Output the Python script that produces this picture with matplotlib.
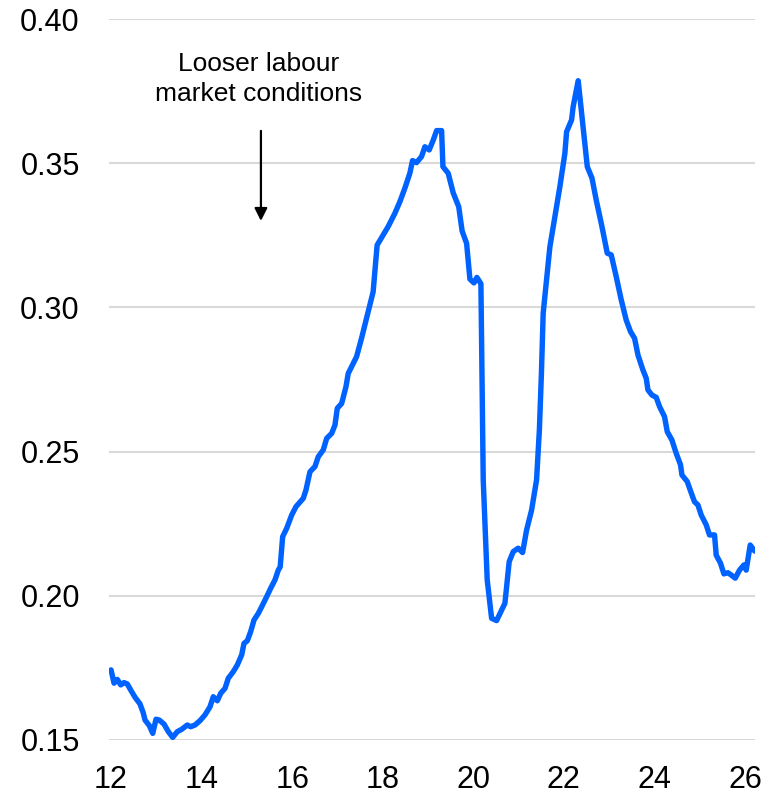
import matplotlib.pyplot as plt

# Time axis in years (12 = 2012)
year = [
    12.000, 12.066, 12.139, 12.214, 12.287, 12.360, 12.435, 12.530, 12.640, 12.713,
    12.751, 12.845, 12.921, 12.993, 13.066, 13.170, 13.265, 13.362, 13.464, 13.561,
    13.684, 13.759, 13.854, 13.965, 14.075, 14.185, 14.258, 14.347, 14.422, 14.517,
    14.589, 14.700, 14.788, 14.885, 14.936, 15.009, 15.084, 15.157, 15.252, 15.327,
    15.437, 15.525, 15.620, 15.693, 15.735, 15.790, 15.879, 15.989, 16.084, 16.245,
    16.305, 16.393, 16.503, 16.576, 16.687, 16.762, 16.872, 16.945, 16.996, 17.093,
    17.188, 17.238, 17.422, 17.532, 17.678, 17.788, 17.876, 18.009, 18.119, 18.267,
    18.377, 18.488, 18.598, 18.658, 18.746, 18.857, 18.931, 19.026, 19.115, 19.190,
    19.300, 19.329, 19.446, 19.556, 19.678, 19.753, 19.852, 19.925, 20.013, 20.079,
    20.168, 20.219, 20.307, 20.404, 20.514, 20.698, 20.792, 20.881, 20.991, 21.088,
    21.177, 21.287, 21.397, 21.459, 21.503, 21.543, 21.691, 21.839, 21.912, 22.022,
    22.060, 22.170, 22.205, 22.316, 22.475, 22.517, 22.621, 22.715, 22.841, 22.958,
    23.046, 23.157, 23.267, 23.377, 23.472, 23.561, 23.636, 23.746, 23.819, 23.856,
    23.945, 24.040, 24.113, 24.223, 24.283, 24.386, 24.481, 24.576, 24.607, 24.724,
    24.828, 24.885, 24.960, 25.033, 25.143, 25.216, 25.327, 25.364, 25.459, 25.534,
    25.623, 25.695, 25.784, 25.879, 25.976, 26.026, 26.115, 26.214,
]
ratio = [
    0.1743, 0.1697, 0.1710, 0.1691, 0.1699, 0.1694, 0.1673, 0.1648, 0.1625, 0.1593,
    0.1569, 0.1550, 0.1523, 0.1572, 0.1569, 0.1555, 0.1529, 0.1509, 0.1529, 0.1537,
    0.1552, 0.1546, 0.1552, 0.1567, 0.1587, 0.1615, 0.1650, 0.1636, 0.1662, 0.1679,
    0.1714, 0.1737, 0.1760, 0.1795, 0.1835, 0.1844, 0.1876, 0.1916, 0.1939, 0.1962,
    0.1997, 0.2026, 0.2055, 0.2089, 0.2100, 0.2205, 0.2234, 0.2280, 0.2309, 0.2338,
    0.2367, 0.2430, 0.2448, 0.2482, 0.2506, 0.2546, 0.2563, 0.2592, 0.2650, 0.2667,
    0.2725, 0.2771, 0.2829, 0.2893, 0.2985, 0.3054, 0.3216, 0.3251, 0.3280, 0.3326,
    0.3366, 0.3413, 0.3465, 0.3509, 0.3502, 0.3523, 0.3557, 0.3546, 0.3580, 0.3613,
    0.3613, 0.3488, 0.3465, 0.3397, 0.3349, 0.3265, 0.3222, 0.3098, 0.3085, 0.3104,
    0.3082, 0.2402, 0.2055, 0.1922, 0.1914, 0.1974, 0.2118, 0.2153, 0.2165, 0.2150,
    0.2228, 0.2297, 0.2402, 0.2575, 0.2766, 0.2980, 0.3210, 0.3349, 0.3419, 0.3534,
    0.3609, 0.3650, 0.3696, 0.3786, 0.3553, 0.3488, 0.3448, 0.3372, 0.3280, 0.3188,
    0.3182, 0.3106, 0.3026, 0.2956, 0.2916, 0.2893, 0.2835, 0.2783, 0.2754, 0.2714,
    0.2696, 0.2688, 0.2656, 0.2621, 0.2569, 0.2540, 0.2494, 0.2454, 0.2419, 0.2396,
    0.2350, 0.2326, 0.2315, 0.2280, 0.2246, 0.2211, 0.2211, 0.2141, 0.2113, 0.2076,
    0.2080, 0.2072, 0.2061, 0.2089, 0.2107, 0.2089, 0.2176, 0.2155,
]

x_ticks = [12, 14, 16, 18, 20, 22, 24, 26]
y_ticks = [0.15, 0.20, 0.25, 0.30, 0.35, 0.40]

plt.rcParams['font.family'] = ['Liberation Sans', 'DejaVu Sans']

fig = plt.figure(figsize=(7.66, 7.95), dpi=100)
ax = fig.add_axes([0.1423, 0.0692, 0.8433, 0.9069])

ax.plot(year, ratio, color='#0062ff', linewidth=3.9, solid_joinstyle='round',
        solid_capstyle='round', zorder=3)

ax.set_xlim(11.955, 26.22)
ax.set_ylim(0.15, 0.40)
ax.set_xticks(x_ticks)
ax.set_xticklabels([str(t) for t in x_ticks])
ax.set_yticks(y_ticks)
ax.set_yticklabels([f'{t:.2f}' for t in y_ticks])
ax.tick_params(axis='both', length=0, labelsize=22, colors='black')
ax.tick_params(axis='y', pad=21)
ax.tick_params(axis='x', pad=18)

ax.grid(axis='y', color='#d9d9d9', linewidth=1.5, zorder=0)
ax.set_axisbelow(True)
for s in ax.spines.values():
    s.set_visible(False)

# annotation with downward arrow
ax.annotate('', xy=(15.31, 0.330), xytext=(15.31, 0.3612),
            arrowprops=dict(arrowstyle='-|>,head_length=0.75,head_width=0.38',
                            color='black', lw=1.6, shrinkA=0, shrinkB=0))
ax.text(15.25, 0.3793, 'Looser labour\nmarket conditions', ha='center', va='center',
        fontsize=19, linespacing=1.3)

fig.savefig('out.png', dpi=100)
